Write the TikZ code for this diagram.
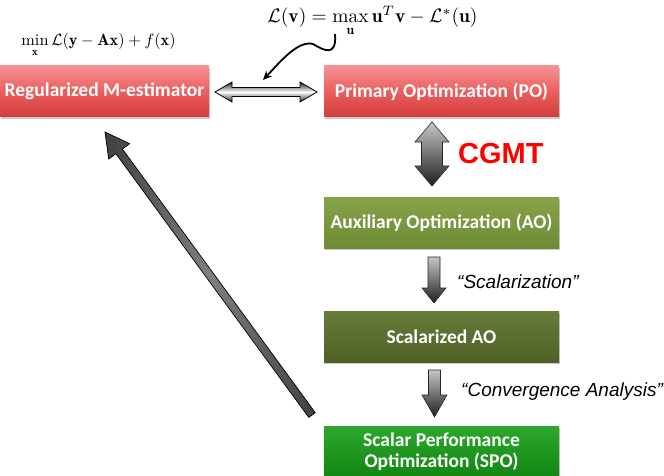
\documentclass[tikz,border=0pt]{standalone}
\usepackage{amsmath}
\usepackage{graphicx}
\usepackage{fontspec}
\newfontfamily\boxfont{Carlito}
\newfontfamily\arialfont{Liberation Sans}
\usetikzlibrary{shadows,arrows.meta}
\definecolor{redtop}{RGB}{246,146,146}
\definecolor{redmid}{RGB}{234,94,94}
\definecolor{redbot}{RGB}{212,60,60}
\definecolor{aotop}{RGB}{134,163,74}
\definecolor{aobot}{RGB}{110,138,52}
\definecolor{satop}{RGB}{104,124,58}
\definecolor{sabot}{RGB}{78,96,38}
\definecolor{spotop}{RGB}{44,168,44}
\definecolor{spobot}{RGB}{18,134,18}
\definecolor{cgmtred}{RGB}{255,0,0}
\tikzset{
  blockbox/.style={minimum width=235pt, minimum height=51pt, inner sep=0pt,
    text=white, align=center, font=\boxfont\bfseries\fontsize{19.5}{22}\selectfont,
    drop shadow={shadow xshift=1.2pt, shadow yshift=-1.8pt, opacity=0.35, fill=black!60}},
  redbox/.style={blockbox, top color=redtop, bottom color=redbot, middle color=redmid},
  aobox/.style={blockbox, top color=aotop, bottom color=aobot},
  sabox/.style={blockbox, top color=satop, bottom color=sabot},
  spobox/.style={blockbox, top color=spotop, bottom color=spobot},
  grayarrow/.style={draw=black!85, line width=0.6pt, top color=black!22, bottom color=black!88},
  labeltext/.style={font=\arialfont\itshape\fontsize{19}{23}\selectfont, anchor=west, inner sep=0pt},
}
\begin{document}
\begin{tikzpicture}[x=1pt,y=-1pt]
\useasboundingbox (0,0) rectangle (664,476);
% boxes
\node[redbox, minimum width=209pt] (rm) at (104.5,91.5) {Regularized M-estimator};
\node[redbox] (po) at (441.5,91.5) {Primary Optimization (PO)};
\node[aobox] (ao) at (441.5,223) {Auxiliary Optimization (AO)};
\node[sabox] (sao) at (441.5,336.5) {Scalarized AO};
\node[spobox] (spo) at (441.5,452) {Scalar Performance\\[-1pt]Optimization (SPO)};
% formulas
\node[inner sep=0pt] (minf) at (98.5,45) {\scalebox{1.63}{$\min\limits_{\mathbf{x}} \mathcal{L}(\mathbf{y}-\mathbf{A}\mathbf{x}) + f(\mathbf{x})$}};
\node[inner sep=0pt] (lv) at (372.5,21) {\scalebox{1.95}{$\mathcal{L}(\mathbf{v}) = \max\limits_{\mathbf{u}} \mathbf{u}^T\mathbf{v} - \mathcal{L}^{*}(\mathbf{u})$}};
% curvy arrow
\coordinate (cs) at (335,34);
\coordinate (ce) at (263,80);
\draw[line width=1.8pt, -{Stealth[length=9pt,width=8pt]}] (cs) .. controls (337,58) and (323,50) .. (313,44) .. controls (298,40) and (280,62) .. (ce);
% horizontal double arrow
\path[draw=black, line width=0.8pt, top color=black!85, bottom color=black!85, middle color=white]
  (215,92) -- (232,82) -- (232,87.5) -- (300,87.5) -- (300,82) -- (317,92) -- (300,102) -- (300,96.5) -- (232,96.5) -- (232,102) -- cycle;
% CGMT double arrow
\path[grayarrow]
  (432,122) -- (449,142) -- (442.5,142) -- (442.5,166) -- (449,166) -- (432,186) -- (415,166) -- (421.5,166) -- (421.5,142) -- (415,142) -- cycle;
\node[font=\arialfont\bfseries\fontsize{29}{33}\selectfont, text=cgmtred, anchor=west, inner sep=0pt] (cgmt) at (458,154) {CGMT};
% scalarization arrow
\path[grayarrow]
  (428,257) -- (440,257) -- (440,288) -- (446,288) -- (434,303) -- (422,288) -- (428,288) -- cycle;
\node[labeltext] (scal) at (457,282) {“Scalarization”};
% convergence arrow
\path[grayarrow]
  (428.5,370) -- (440.5,370) -- (440.5,395) -- (447,395) -- (434.5,417) -- (422,395) -- (428.5,395) -- cycle;
\node[labeltext] (conv) at (461,392) {“Convergence Analysis”};
% diagonal arrow back to M-estimator
\path[draw=black, line width=0.7pt, left color=black!75, right color=black!75, middle color=black!50]
  (315.23,412.64) -- (122.40,149.01) -- (129.66,143.69) -- (105,132) -- (108.68,159.05) -- (115.94,153.73) -- (308.77,417.36) -- cycle;
\end{tikzpicture}
\end{document}
